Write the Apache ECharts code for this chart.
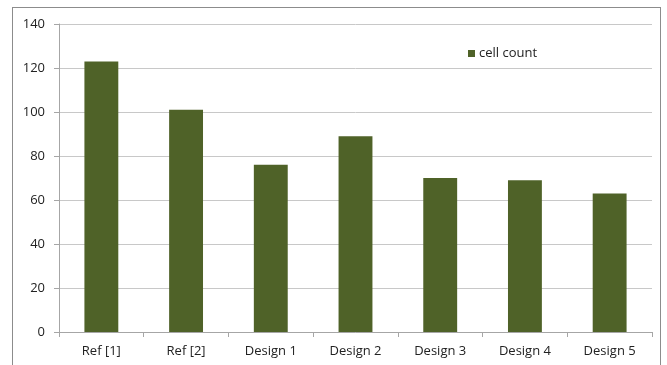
<!DOCTYPE html>
<html>
<head>
<meta charset="utf-8">
<script src="https://cdn.jsdelivr.net/npm/echarts@6/dist/echarts.min.js"></script>
<style>
  html, body { margin: 0; padding: 0; background: #fff; }
  #wrap { position: relative; width: 667px; height: 365px; overflow: hidden; }
  #frame { position: absolute; left: 12px; top: 7px; width: 649px; height: 400px;
           border: 1px solid #8c8c8c; border-bottom: none; box-sizing: border-box; }
  #chart { position: absolute; left: 0; top: 0; width: 667px; height: 365px; }
</style>
</head>
<body>
<div id="wrap">
  <div id="frame"></div>
  <div id="chart"></div>
</div>
<script>
const categories = ['Ref [1]', 'Ref [2]', 'Design 1', 'Design 2', 'Design 3', 'Design 4', 'Design 5'];
const cellCount = [123, 101, 76, 89, 70, 69, 63];
const seriesName = 'cell count';

const font = '"Open Sans", "Noto Sans", sans-serif';
const chart = echarts.init(document.getElementById('chart'), null, { renderer: 'canvas' });
chart.setOption({
  animation: false,
  grid: { left: 59, right: 15, top: 24, bottom: 33, containLabel: false },
  legend: {
    data: [seriesName],
    left: 463, top: 42,
    itemWidth: 7, itemHeight: 7, itemGap: 4,
    icon: 'rect',
    textStyle: { fontFamily: font, fontSize: 13, color: '#222', padding: [0, 0, 0, -1] }
  },
  xAxis: {
    type: 'category',
    data: categories,
    axisLine: { lineStyle: { color: '#a6a6a6', width: 1 } },
    axisTick: { show: true, alignWithLabel: false, length: 5, lineStyle: { color: '#a6a6a6' } },
    axisLabel: { fontFamily: font, fontSize: 13, color: '#222', margin: 13 }
  },
  yAxis: {
    type: 'value',
    min: 0, max: 140, interval: 20,
    axisLine: { show: true, lineStyle: { color: '#a6a6a6' } },
    axisTick: { show: true, length: 5, lineStyle: { color: '#a6a6a6' } },
    axisLabel: { fontFamily: font, fontSize: 13, color: '#222', margin: 14 },
    splitLine: { lineStyle: { color: '#c8c8c8', width: 1 } }
  },
  series: [{
    name: seriesName,
    type: 'bar',
    data: cellCount,
    barWidth: '40%',
    itemStyle: { color: '#4f6228' }
  }]
});
</script>
</body>
</html>
